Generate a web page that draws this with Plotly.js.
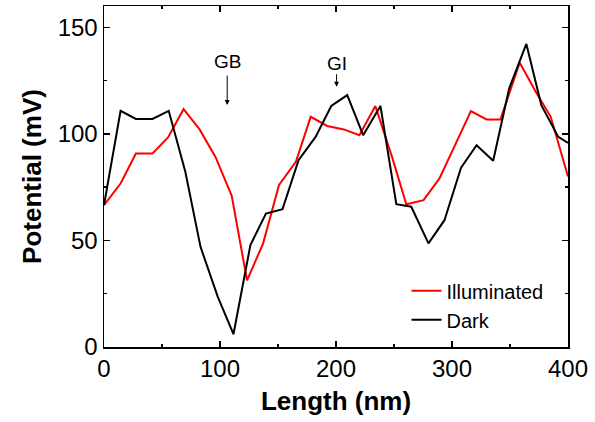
<!DOCTYPE html>
<html>
<head>
<meta charset="utf-8">
<script src="https://cdn.plot.ly/plotly-3.0.1.min.js"></script>
<style>html,body{margin:0;padding:0;background:#fff;}#chart{width:595px;height:422px;}</style>
</head>
<body>
<div id="chart"></div>
<script>
var illumX = [0, 14.3, 27.5, 41.8, 55.2, 68.6, 82.4, 96.1, 110.1, 123.3, 137.1, 150.9, 165.4, 178.2, 192.4, 206.8, 220.2, 233.9, 248.3, 260.6, 275.5, 289.2, 302.6, 316.3, 329.8, 341.8, 358.4, 372.7, 385.1, 400];
var illumY = [66.6, 76.7, 90.8, 90.8, 98.3, 111.6, 102.1, 89.2, 70.9, 31.3, 48.5, 76.0, 86.9, 108.0, 103.7, 102.1, 99.4, 113.1, 89.2, 67.0, 68.9, 79.1, 94.7, 110.7, 106.8, 106.8, 133.4, 119.3, 108.0, 80.0];
var darkX = [0, 14.3, 27.5, 41.8, 55.8, 70.1, 83.2, 98.1, 111.6, 126.2, 139.6, 153.9, 167.7, 182.4, 195.9, 209.7, 223.4, 238.3, 252.0, 264.9, 279.7, 293.5, 307.8, 321.2, 335.5, 349.3, 364.1, 377.0, 391.6, 400];
var darkY = [66.6, 110.8, 107.0, 107.0, 110.8, 82.2, 47.0, 23.5, 6.0, 47.8, 62.6, 64.7, 87.7, 98.6, 113.1, 118.2, 99.4, 113.1, 67.0, 65.8, 48.6, 59.5, 84.1, 94.7, 87.4, 121.4, 142.2, 113.5, 98.6, 95.8];
var seriesNames = ["Illuminated", "Dark"];
var markLabels = ["GB", "GI"];
var markX = [106.2, 200.5];
var markTip = [113.5, 122.1];
var markText = [133.9, 133.2];
var markLen = [-31, -14];

var F = "Liberation Sans, Arial, sans-serif";
var traces = [
  {x: illumX, y: illumY, name: seriesNames[0], type: "scatter", mode: "lines", line: {color: "#ff0000", width: 2}},
  {x: darkX, y: darkY, name: seriesNames[1], type: "scatter", mode: "lines", line: {color: "#000000", width: 2}}
];
var ann = [];
for (var i = 0; i < markLabels.length; i++) {
  ann.push({x: markX[i], y: markText[i], xref: "x", yref: "y", text: markLabels[i], showarrow: false, font: {family: F, size: 19, color: "#000"}, xanchor: "center", yanchor: "middle"});
  ann.push({x: markX[i], y: markTip[i], xref: "x", yref: "y", text: "", showarrow: true, ax: 0, ay: markLen[i], arrowhead: 2, arrowsize: 1, arrowwidth: 1, arrowcolor: "#000"});
}
var layout = {
  width: 595, height: 422,
  margin: {l: 104, r: 27, t: 6, b: 75},
  paper_bgcolor: "#fff", plot_bgcolor: "#fff",
  showlegend: true,
  legend: {x: 0.652, y: 0.222, xanchor: "left", yanchor: "top", font: {family: F, size: 20, color: "#000"}, bgcolor: "rgba(0,0,0,0)", tracegroupgap: 0},
  xaxis: {
    range: [0, 400], dtick: 100, tick0: 0, showgrid: false, zeroline: false,
    showline: true, linecolor: "#000", linewidth: 1.5, mirror: "ticks",
    ticks: "inside", ticklen: 6, tickwidth: 1.5, tickcolor: "#000",
    minor: {dtick: 50, ticks: "inside", ticklen: 3, tickwidth: 1.5, tickcolor: "#000", showgrid: false},
    tickfont: {family: F, size: 24, color: "#000"},
    title: {text: "<b>Length (nm)</b>", font: {family: F, size: 26, color: "#000"}, standoff: 10}
  },
  yaxis: {
    range: [0, 160], dtick: 50, tick0: 0, showgrid: false, zeroline: false,
    showline: true, linecolor: "#000", linewidth: 1.5, mirror: "ticks",
    ticks: "inside", ticklen: 6, tickwidth: 1.5, tickcolor: "#000",
    minor: {dtick: 25, ticks: "inside", ticklen: 3, tickwidth: 1.5, tickcolor: "#000", showgrid: false},
    tickfont: {family: F, size: 24, color: "#000"},
    title: {text: "<b>Potential (mV)</b>", font: {family: F, size: 26, color: "#000"}, standoff: 8}
  },
  annotations: ann
};
Plotly.newPlot("chart", traces, layout, {displayModeBar: false, staticPlot: true});
</script>
</body>
</html>
